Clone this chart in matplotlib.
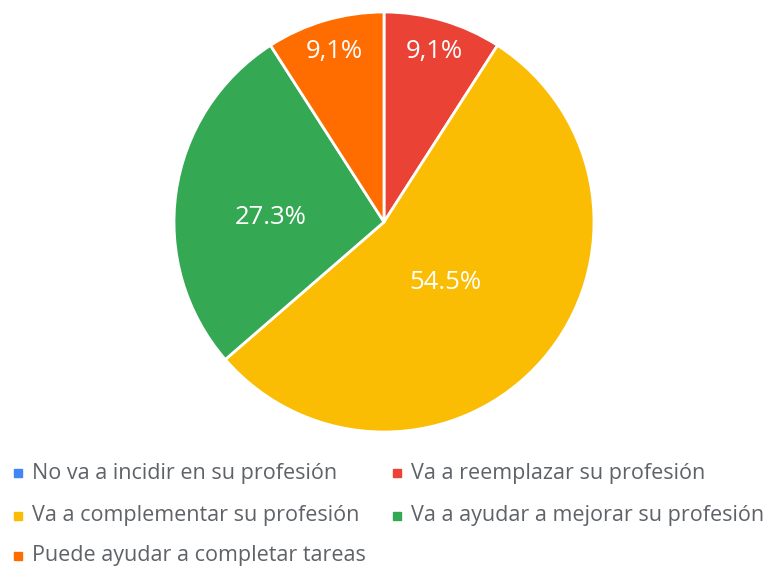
import matplotlib.pyplot as plt
from matplotlib.patches import Rectangle
import numpy as np

plt.rcParams['font.family'] = ['Open Sans', 'DejaVu Sans']

# data
categories = ["No va a incidir en su profesión",
              "Va a reemplazar su profesión",
              "Va a complementar su profesión",
              "Va a ayudar a mejorar su profesión",
              "Puede ayudar a completar tareas"]
counts = [0, 1, 6, 3, 1]
pct_labels = ["", "9,1%", "54.5%", "27.3%", "9,1%"]
colors = ["#4285F4", "#EA4335", "#FBBC04", "#34A853", "#FF6D01"]

W, H = 766, 566
fig = plt.figure(figsize=(W / 100, H / 100), dpi=100)

# pie centred at (384, 222) px with radius 210 px
cx, cy, r = 384, 222, 210
ax = fig.add_axes([(cx - r) / W, (H - cy - r) / H, 2 * r / W, 2 * r / H])
wedges, _ = ax.pie(counts, colors=colors, startangle=90, counterclock=False,
                   wedgeprops=dict(edgecolor="white", linewidth=2))
ax.set_xlim(-1, 1)
ax.set_ylim(-1, 1)
ax.set_aspect("equal")
ax.axis("off")

# label placement (distance from centre, angle tweak)
label_dist = [0, 0.845, 0.41, 0.54, 0.845]
label_rot = [0, 0, -4, 6, 0]
for w, lab, d, rot in zip(wedges, pct_labels, label_dist, label_rot):
    if not lab:
        continue
    ang = np.deg2rad((w.theta1 + w.theta2) / 2 + rot)
    ax.text(d * np.cos(ang), d * np.sin(ang), lab, color="white",
            fontsize=18.5, ha="center", va="center")

# legend, two columns
col_x = [14, 393]
row_y = [473, 516, 556]
order = [(0, 0), (1, 0), (0, 1), (1, 1), (0, 2)]
for (c, rw), name, col in zip(order, categories, colors):
    x, y = col_x[c], row_y[rw]
    fig.add_artist(Rectangle((x / W, (H - y - 4) / H), 8 / W, 8 / H,
                             transform=fig.transFigure, color=col))
    fig.text((x + 18) / W, (H - y) / H, name, color="#5f6368",
             fontsize=15.5, ha="left", va="center")

plt.savefig("out.png", dpi=100)
